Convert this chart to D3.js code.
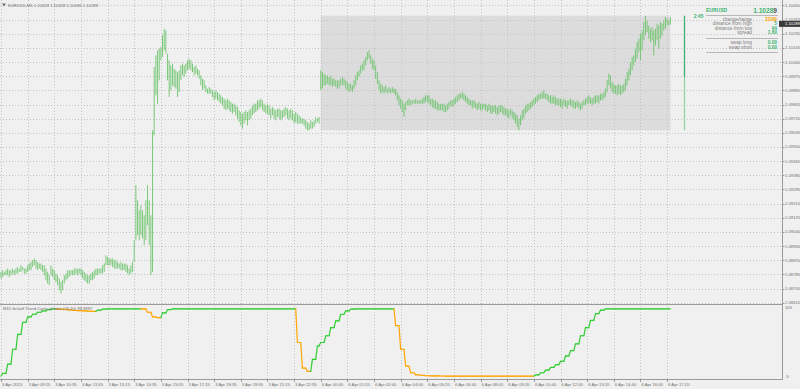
<!DOCTYPE html>
<html>
<head>
<meta charset="utf-8">
<script src="https://cdn.jsdelivr.net/npm/d3@7"></script>
<style>
  html, body { margin: 0; padding: 0; background: #f0f0f0; }
  svg { display: block; font-family: "Liberation Sans", Arial, sans-serif; }
</style>
</head>
<body>
<svg id="chart" width="800" height="389"></svg>
<script>
// ---- data ----
const symbol = "EURUSD,M5";
const lastOhlc = ["1.10328", "1.10328", "1.10286", "1.10289"];
const bid = 1.10289;
const dayOpen = 1.09969;

const timeLabels = ["3 Apr 2015","3 Apr 09:15","3 Apr 10:35","3 Apr 11:55","3 Apr 13:15","3 Apr 14:35",
  "3 Apr 15:55","3 Apr 17:15","3 Apr 18:35","3 Apr 19:55","3 Apr 21:15","3 Apr 22:35","6 Apr 00:00",
  "6 Apr 01:20","6 Apr 02:40","6 Apr 04:00","6 Apr 05:20","6 Apr 06:40","6 Apr 08:00","6 Apr 09:20",
  "6 Apr 10:40","6 Apr 12:00","6 Apr 13:20","6 Apr 14:40","6 Apr 16:00","6 Apr 17:20"];

const priceTicks = [1.10400,1.10315,1.10230,1.10145,1.10060,1.09975,1.09890,1.09805,1.09720,1.09635,1.09550,
  1.09465,1.09380,1.09295,1.09210,1.09125,1.09040,1.08955,1.08870,1.08785,1.08700,1.08615];

// M5 bars, 3 Apr 07:55 .. 23:50 then 6 Apr 00:00 .. 17:30
const fridayBars = 192;
const highs = [
1.0880,1.0881,1.0880,1.0881,1.0882,1.0881,1.0881,1.0882,1.0881,1.0882,
1.0883,1.0882,1.0884,1.0883,1.0882,1.0882,1.0884,1.0885,1.0886,1.0887,
1.0888,1.0887,1.0886,1.0885,1.0885,1.0884,1.0884,1.0882,1.0880,1.0878,
1.0884,1.0882,1.0881,1.0879,1.0878,1.0876,1.0874,1.0875,1.0878,1.0879,
1.0881,1.0881,1.0881,1.0881,1.0882,1.0882,1.0882,1.0882,1.0882,1.0881,
1.0880,1.0879,1.0878,1.0878,1.0879,1.0880,1.0881,1.0882,1.0882,1.0882,
1.0882,1.0884,1.0885,1.0890,1.0889,1.0888,1.0888,1.0888,1.0887,1.0887,
1.0886,1.0885,1.0886,1.0885,1.0885,1.0885,1.0884,1.0882,1.0884,1.0886,
1.0899,1.0932,1.0923,1.0917,1.0920,1.0917,1.0914,1.0923,1.0932,1.0923,
1.0914,1.0965,1.1003,1.1010,1.1013,1.1014,1.1015,1.1022,1.1026,1.1025,
1.1011,1.1007,1.1004,1.1005,1.1002,1.1001,1.1000,1.1001,1.1004,1.1005,
1.1004,1.1005,1.1007,1.1008,1.1007,1.1005,1.1003,1.1004,1.1002,1.1001,
1.0998,1.0996,1.0995,1.0992,1.0990,1.0991,1.0990,1.0989,1.0988,1.0989,
1.0988,1.0987,1.0986,1.0985,1.0984,1.0983,1.0984,1.0983,1.0982,1.0981,
1.0981,1.0980,1.0979,1.0977,1.0976,1.0975,1.0976,1.0977,1.0976,1.0977,
1.0978,1.0980,1.0981,1.0981,1.0983,1.0983,1.0984,1.0983,1.0981,1.0980,
1.0981,1.0980,1.0978,1.0979,1.0978,1.0977,1.0978,1.0978,1.0977,1.0977,
1.0978,1.0979,1.0978,1.0977,1.0978,1.0977,1.0975,1.0976,1.0975,1.0974,
1.0973,1.0972,1.0972,1.0971,1.0970,1.0969,1.0971,1.0970,1.0971,1.0973,
1.0972,1.0973,
1.1001,1.1000,1.0999,1.0998,1.0998,1.0997,1.0998,1.0996,
1.0996,1.0995,1.0995,1.0995,1.0996,1.0997,1.0996,1.0995,1.0994,1.0993,
1.0993,1.0992,1.0995,1.0998,1.1000,1.1001,1.1004,1.1005,1.1007,1.1009,
1.1012,1.1013,1.1010,1.1008,1.1007,1.1004,1.1000,1.0995,1.0993,1.0992,
1.0991,1.0992,1.0990,1.0991,1.0990,1.0991,1.0990,1.0990,1.0988,1.0986,
1.0984,1.0983,1.0981,1.0982,1.0983,1.0984,1.0983,1.0983,1.0983,1.0984,
1.0983,1.0983,1.0983,1.0984,1.0985,1.0986,1.0986,1.0986,1.0984,1.0984,
1.0983,1.0983,1.0982,1.0981,1.0981,1.0981,1.0981,1.0980,1.0981,1.0982,
1.0983,1.0983,1.0984,1.0985,1.0986,1.0987,1.0987,1.0988,1.0987,1.0986,
1.0985,1.0984,1.0983,1.0983,1.0983,1.0982,1.0981,1.0982,1.0981,1.0981,
1.0981,1.0981,1.0980,1.0981,1.0980,1.0980,1.0980,1.0980,1.0979,1.0980,
1.0980,1.0980,1.0979,1.0978,1.0978,1.0977,1.0978,1.0977,1.0976,1.0975,
1.0974,1.0972,1.0974,1.0977,1.0978,1.0980,1.0981,1.0981,1.0982,1.0983,
1.0984,1.0985,1.0986,1.0987,1.0987,1.0988,1.0989,1.0987,1.0987,1.0986,
1.0986,1.0985,1.0986,1.0985,1.0984,1.0984,1.0984,1.0983,1.0984,1.0983,
1.0983,1.0983,1.0984,1.0983,1.0983,1.0982,1.0983,1.0982,1.0981,1.0982,
1.0983,1.0984,1.0985,1.0986,1.0985,1.0984,1.0985,1.0986,1.0986,1.0986,
1.0987,1.0987,1.0988,1.0990,1.0995,1.0999,1.0998,1.0994,1.0993,1.0992,
1.0992,1.0993,1.0992,1.0992,1.0993,1.0996,1.1000,1.1002,1.1006,1.1009,
1.1010,1.1014,1.1018,1.1020,1.1023,1.1025,1.1030,1.10338,1.1031,1.1028,
1.1026,1.1027,1.1025,1.1026,1.1029,1.1028,1.1030,1.1029,1.1031,1.1033,
1.1032,1.1031,1.10328];

const lows = [
1.0876,1.0877,1.0878,1.0878,1.0878,1.0877,1.0878,1.0879,1.0878,1.0879,
1.0879,1.0880,1.0880,1.0881,1.0879,1.0879,1.0880,1.0881,1.0881,1.0883,
1.0884,1.0882,1.0881,1.0882,1.0881,1.0880,1.0878,1.0875,1.0873,1.0872,
1.0878,1.0877,1.0875,1.0874,1.0872,1.0869,1.0867,1.0869,1.0873,1.0875,
1.0876,1.0877,1.0878,1.0878,1.0878,1.0879,1.0878,1.0879,1.0878,1.0876,
1.0875,1.0874,1.0873,1.0873,1.0875,1.0875,1.0876,1.0878,1.0878,1.0879,
1.0879,1.0879,1.0880,1.0884,1.0884,1.0884,1.0884,1.0883,1.0882,1.0882,
1.0882,1.0882,1.0881,1.0881,1.0881,1.0880,1.0879,1.0878,1.0879,1.0880,
1.0886,1.0899,1.0902,1.0899,1.0902,1.0900,1.0896,1.0899,1.0908,1.0896,
1.0878,1.0880,1.0962,1.0986,1.0981,1.0995,1.1007,1.1009,1.1013,1.1011,
1.0995,1.0985,1.0989,1.0992,1.0991,1.0990,1.0985,1.0988,1.0995,1.0998,
1.0997,1.0999,1.1001,1.1002,1.1001,1.1000,1.0998,1.0999,1.0998,1.0996,
1.0992,1.0989,1.0990,1.0988,1.0987,1.0987,1.0987,1.0985,1.0983,1.0984,
1.0983,1.0982,1.0981,1.0980,1.0978,1.0977,1.0978,1.0977,1.0976,1.0975,
1.0976,1.0974,1.0972,1.0970,1.0968,1.0966,1.0969,1.0971,1.0968,1.0971,
1.0972,1.0974,1.0975,1.0976,1.0977,1.0978,1.0979,1.0977,1.0976,1.0975,
1.0975,1.0974,1.0972,1.0974,1.0972,1.0971,1.0973,1.0972,1.0971,1.0972,
1.0973,1.0974,1.0972,1.0971,1.0972,1.0971,1.0969,1.0970,1.0969,1.0969,
1.0969,1.0969,1.0968,1.0966,1.0965,1.0965,1.0966,1.0966,1.0967,1.0969,
1.0970,1.0969,
1.0989,1.0990,1.0992,1.0992,1.0993,1.0992,1.0992,1.0991,
1.0992,1.0991,1.0990,1.0990,1.0992,1.0992,1.0992,1.0990,1.0989,1.0988,
1.0989,1.0988,1.0990,1.0992,1.0995,1.0997,1.0999,1.1001,1.1001,1.1004,
1.1007,1.1008,1.1005,1.1002,1.1001,1.0996,1.0993,1.0989,1.0987,1.0988,
1.0987,1.0988,1.0987,1.0988,1.0987,1.0988,1.0987,1.0986,1.0983,1.0980,
1.0978,1.0976,1.0973,1.0977,1.0980,1.0980,1.0980,1.0981,1.0981,1.0981,
1.0981,1.0981,1.0981,1.0981,1.0981,1.0982,1.0982,1.0981,1.0980,1.0979,
1.0978,1.0978,1.0977,1.0977,1.0977,1.0977,1.0976,1.0976,1.0977,1.0978,
1.0980,1.0979,1.0980,1.0981,1.0982,1.0983,1.0984,1.0984,1.0983,1.0982,
1.0981,1.0980,1.0980,1.0978,1.0979,1.0978,1.0977,1.0978,1.0977,1.0977,
1.0978,1.0977,1.0976,1.0977,1.0975,1.0975,1.0976,1.0975,1.0974,1.0975,
1.0976,1.0975,1.0974,1.0974,1.0973,1.0972,1.0974,1.0972,1.0971,1.0969,
1.0967,1.0965,1.0968,1.0971,1.0972,1.0975,1.0976,1.0977,1.0978,1.0979,
1.0980,1.0981,1.0982,1.0983,1.0984,1.0984,1.0984,1.0984,1.0983,1.0982,
1.0981,1.0981,1.0981,1.0980,1.0980,1.0980,1.0979,1.0978,1.0980,1.0979,
1.0978,1.0980,1.0980,1.0979,1.0978,1.0978,1.0979,1.0978,1.0977,1.0978,
1.0980,1.0980,1.0981,1.0981,1.0981,1.0980,1.0981,1.0981,1.0982,1.0981,
1.0983,1.0983,1.0984,1.0985,1.0988,1.0992,1.0990,1.0988,1.0987,1.0987,
1.0986,1.0987,1.0986,1.0987,1.0988,1.0989,1.0992,1.0995,1.0998,1.1001,
1.1004,1.1006,1.1008,1.1012,1.1007,1.1013,1.1019,1.1022,1.1024,1.1020,
1.1018,1.1019,1.1010,1.1016,1.1019,1.1014,1.1020,1.1022,1.1025,1.1026,
1.1028,1.1028,1.10286];

// M15 Schaff Trend Cycle, one value per M15 bar (3 Apr 07:45 .. 23:45, 6 Apr 00:00 .. 17:30)
const stcFriday = [0,4,18,40,62,80,88,92,95,97,99,100,99.7,99.2,98.6,97.9,97.3,96.9,96.6,96.4,
  98,99.5,100,100,100,100,100,100,100,99.9,95,88,87,94,99,
  100,100,100,100,100,100,100,100,100,100,100,100,100,100,100,100,100,100,100,100,100,100,100,100,100,
  50,12,7,25,45];
const stcMonday = [50,60,72,82,92,97,99.5,100,100,100,100,100,100,100,100,
  75,40,15,5,2,1,0.6,0.4,0.3,0.2,
  0,0,0,0,0,0,0,0,0,0,0,0,0,0,0,0,0,0,
  2,5,9,13,17,22,30,38,48,60,72,83,93,98,
  100,100,100,100,100,100,100,100,100,100,100,100,100,100];

const infoLabels = ["change/range", "distance from high", "distance from low", "spread"];
const infoValues = ["32/69", "5", "64", "1.60"];
const swapLabels = ["swap long", "swap short"];
const swapValues = ["0.00", "0.00"];

// ---- layout ----
const W = 800, H = 389;
const axisX = 782;
const mainBottom = 304;
const subTop = 305.5, subBottom = 379.5;

const svg = d3.select("#chart");
const x = d3.scaleLinear().domain([0, 469]).range([1, axisX]);
const y = d3.scaleLinear().domain([1.08615, 1.10400]).range([302.7, 5.4]);
const ys = d3.scaleLinear().domain([-5, 105]).range([subBottom, subTop]);

const bars = highs.map((h, i) => ({ i, high: h, low: lows[i] }));
const lastIndex = bars.length - 1;

svg.append("rect").attr("width", W).attr("height", H).attr("fill", "#f0f0f0");

// today's range box (Monday session)
const today = bars.filter(d => d.i >= fridayBars);
const dayHigh = d3.max(today, d => d.high);
const dayLow = d3.min(today, d => d.low);
svg.append("rect")
    .attr("x", x(fridayBars))
    .attr("y", y(dayHigh))
    .attr("width", x(lastIndex) - x(fridayBars))
    .attr("height", y(dayLow) - y(dayHigh))
    .attr("fill", "#dcdcdc");

// grid
const grid = svg.append("g").attr("stroke", "#c4c4c4").attr("stroke-dasharray", "1,2").attr("stroke-width", 1);
grid.selectAll("line.h")
    .data(priceTicks)
    .enter().append("line")
    .attr("x1", 0).attr("x2", axisX)
    .attr("y1", d => Math.round(y(d)) + 0.5)
    .attr("y2", d => Math.round(y(d)) + 0.5);
grid.selectAll("line.v")
    .data(timeLabels)
    .enter().append("line")
    .attr("x1", (d, k) => Math.round(x(16 * k)) + 0.5)
    .attr("x2", (d, k) => Math.round(x(16 * k)) + 0.5)
    .attr("y1", 0).attr("y2", subBottom);

// price bars
svg.append("g")
    .selectAll("line")
    .data(bars)
    .enter().append("line")
    .attr("x1", d => x(d.i)).attr("x2", d => x(d.i))
    .attr("y1", d => y(d.high)).attr("y2", d => y(d.low))
    .attr("stroke", "#6cc46c")
    .attr("stroke-width", 0.9);

// day range marker
const mx = Math.round(x(lastIndex + 8)) + 0.5;
svg.append("line")
    .attr("x1", mx).attr("x2", mx)
    .attr("y1", y(dayHigh)).attr("y2", y(dayLow))
    .attr("stroke", "#8fd19a").attr("stroke-width", 1.2);
svg.append("line")
    .attr("x1", mx).attr("x2", mx)
    .attr("y1", y(dayHigh)).attr("y2", y(dayOpen))
    .attr("stroke", "#3cb371").attr("stroke-width", 1.2);

svg.append("text")
    .attr("x", x(lastIndex + 14)).attr("y", 17.5)
    .attr("font-size", 4.8).attr("font-weight", "bold")
    .attr("fill", "#3cb371")
    .text("2:45");

// STC subwindow
function m15Index(i) {
    if (i < fridayBars) return Math.floor((10 + 5 * i) / 15);
    return stcFriday.length + Math.floor(5 * (i - fridayBars) / 15);
}
const stc = stcFriday.concat(stcMonday);
const trend = [];
stc.forEach((v, j) => {
    if (j === 0) trend.push(1);
    else trend.push(v > stc[j - 1] ? 1 : v < stc[j - 1] ? -1 : trend[j - 1]);
});
const stcPts = bars.map(d => ({ i: d.i, v: stc[m15Index(d.i)], t: trend[m15Index(d.i)] }));
const segs = stcPts.slice(1).map((p, k) => ({ a: stcPts[k], b: p }));
svg.append("g")
    .selectAll("line")
    .data(segs)
    .enter().append("line")
    .attr("x1", d => x(d.a.i)).attr("y1", d => ys(d.a.v))
    .attr("x2", d => x(d.b.i)).attr("y2", d => ys(d.b.v))
    .attr("stroke", d => d.b.t > 0 ? "#32cd32" : "#ffa500")
    .attr("stroke-width", 1.2)
    .attr("stroke-linecap", "round");

// frames
const frame = svg.append("g").attr("stroke", "#9a9a9a").attr("stroke-width", 1);
frame.append("line").attr("x1", 0).attr("x2", axisX).attr("y1", mainBottom + 0.5).attr("y2", mainBottom + 0.5);
frame.append("line").attr("x1", axisX + 0.5).attr("x2", axisX + 0.5).attr("y1", 0).attr("y2", subBottom);
frame.append("line").attr("x1", 0).attr("x2", axisX + 1).attr("y1", subBottom).attr("y2", subBottom);

// price axis
const pAxis = svg.append("g");
pAxis.selectAll("line")
    .data(priceTicks)
    .enter().append("line")
    .attr("x1", axisX).attr("x2", axisX + 2.5)
    .attr("y1", d => Math.round(y(d)) + 0.5).attr("y2", d => Math.round(y(d)) + 0.5)
    .attr("stroke", "#9a9a9a");
pAxis.selectAll("text")
    .data(priceTicks)
    .enter().append("text")
    .attr("x", axisX + 3)
    .attr("y", d => y(d) + 1.5)
    .attr("font-size", 4.2)
    .attr("fill", "#6e6e6e")
    .text(d => d.toFixed(5));

// bid label
const by = y(bid);
svg.append("rect")
    .attr("x", axisX - 3).attr("y", by - 3)
    .attr("width", W - axisX + 3).attr("height", 6)
    .attr("fill", "#3a3a3a");
svg.append("text")
    .attr("x", axisX + 3).attr("y", by + 1.5)
    .attr("font-size", 4.2).attr("fill", "#ffffff")
    .text(bid.toFixed(5));

// STC scale labels
svg.append("text").attr("x", axisX + 3).attr("y", subTop + 3.5)
    .attr("font-size", 4.2).attr("fill", "#6e6e6e").text("105");
svg.append("text").attr("x", axisX + 3).attr("y", subBottom - 1.5)
    .attr("font-size", 4.2).attr("fill", "#6e6e6e").text("-5");

// time axis
const tAxis = svg.append("g");
tAxis.selectAll("line")
    .data(timeLabels)
    .enter().append("line")
    .attr("x1", (d, k) => Math.round(x(16 * k)) + 0.5)
    .attr("x2", (d, k) => Math.round(x(16 * k)) + 0.5)
    .attr("y1", subBottom).attr("y2", subBottom + 2.5)
    .attr("stroke", "#9a9a9a");
tAxis.selectAll("text")
    .data(timeLabels)
    .enter().append("text")
    .attr("x", (d, k) => x(16 * k) + 1)
    .attr("y", 386)
    .attr("font-size", 4.2)
    .attr("fill", "#6e6e6e")
    .text(d => d);

// header
svg.append("path").attr("d", "M2,3.5L6,3.5L4,6.5Z").attr("fill", "#6e6e6e");
svg.append("text").attr("x", 8).attr("y", 6.5)
    .attr("font-size", 4.2).attr("fill", "#6e6e6e")
    .text(symbol + "  " + lastOhlc.join(" "));

svg.append("text").attr("x", 3).attr("y", 310)
    .attr("font-size", 4.2).attr("fill", "#6e6e6e")
    .text("M15 Schaff Trend Cycle of ema (23,10) 99.9997");

// info panel
const panel = svg.append("g");
panel.append("text").attr("x", 706).attr("y", 12)
    .attr("font-size", 5).attr("font-weight", "bold").attr("fill", "#3cb371").text("EURUSD");
const big = panel.append("text").attr("x", 777).attr("y", 12.5)
    .attr("text-anchor", "end").attr("font-size", 6.6).attr("font-weight", "bold");
big.append("tspan").attr("fill", "#3cb371").text(bid.toFixed(5).slice(0, -1));
big.append("tspan").attr("fill", "#555").text(bid.toFixed(5).slice(-1));

const sep = [15.5, 38.5, 52.5];
panel.selectAll("line")
    .data(sep)
    .enter().append("line")
    .attr("x1", 706).attr("x2", 778)
    .attr("y1", d => d).attr("y2", d => d)
    .attr("stroke", "#a8a8a8").attr("stroke-width", 0.8);

const rowY = [20.5, 25, 29.7, 34.4];
panel.selectAll("text.il")
    .data(infoLabels)
    .enter().append("text")
    .attr("class", "il")
    .attr("x", 752).attr("y", (d, k) => rowY[k])
    .attr("text-anchor", "end").attr("font-size", 4.8).attr("fill", "#808080")
    .text(d => d);
panel.selectAll("text.iv")
    .data(infoValues)
    .enter().append("text")
    .attr("class", "iv")
    .attr("x", 777).attr("y", (d, k) => rowY[k])
    .attr("text-anchor", "end").attr("font-size", 4.8).attr("font-weight", "bold")
    .attr("fill", (d, k) => k === 0 ? "#ffa500" : "#3cb371")
    .text(d => d);

const swapY = [44, 48.8];
panel.selectAll("text.sl")
    .data(swapLabels)
    .enter().append("text")
    .attr("class", "sl")
    .attr("x", 752).attr("y", (d, k) => swapY[k])
    .attr("text-anchor", "end").attr("font-size", 4.8).attr("fill", "#808080")
    .text(d => d);
panel.selectAll("text.sv")
    .data(swapValues)
    .enter().append("text")
    .attr("class", "sv")
    .attr("x", 777).attr("y", (d, k) => swapY[k])
    .attr("text-anchor", "end").attr("font-size", 4.8).attr("font-weight", "bold")
    .attr("fill", "#3cb371")
    .text(d => d);
</script>
</body>
</html>
